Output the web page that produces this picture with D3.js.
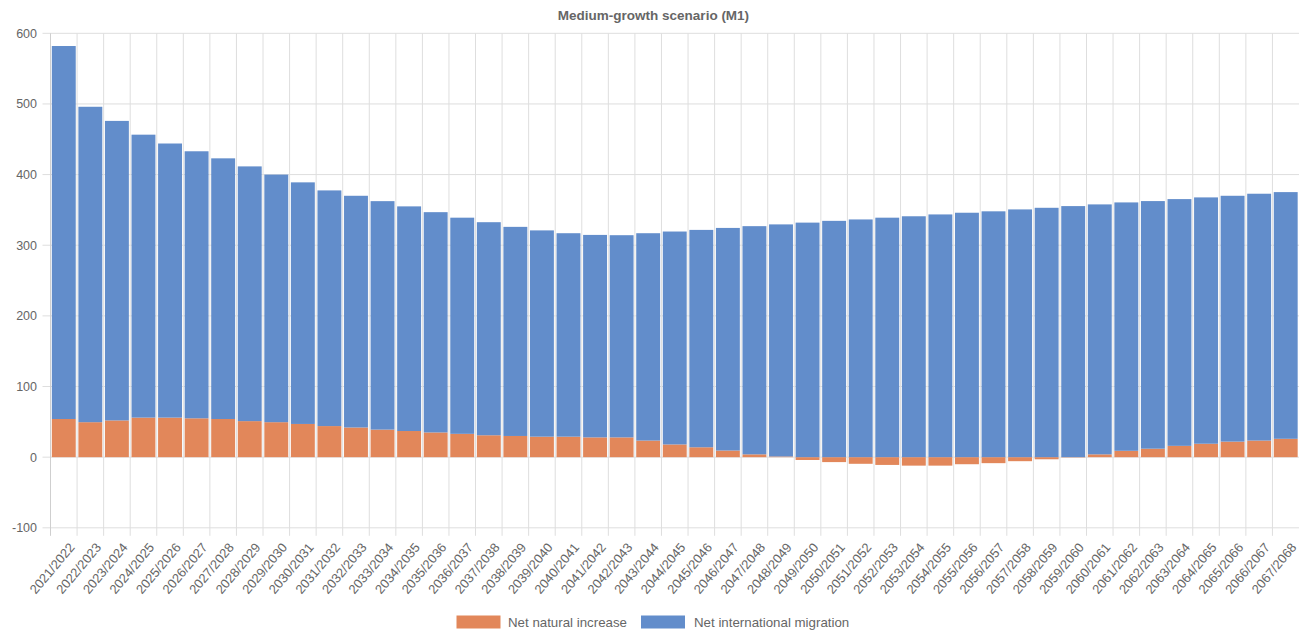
<!DOCTYPE html>
<html>
<head>
<meta charset="utf-8">
<script src="https://cdn.jsdelivr.net/npm/d3@7"></script>
<style>
  html, body { margin: 0; padding: 0; background: #fff; }
  svg { display: block; font-family: "Liberation Sans", Arial, sans-serif; }
</style>
</head>
<body>
<svg id="chart" width="1299" height="633"></svg>
<script>
const categories = ["2021/2022","2022/2023","2023/2024","2024/2025","2025/2026","2026/2027","2027/2028","2028/2029","2029/2030","2030/2031","2031/2032","2032/2033","2033/2034","2034/2035","2035/2036","2036/2037","2037/2038","2038/2039","2039/2040","2040/2041","2041/2042","2042/2043","2043/2044","2044/2045","2045/2046","2046/2047","2047/2048","2048/2049","2049/2050","2050/2051","2051/2052","2052/2053","2053/2054","2054/2055","2055/2056","2056/2057","2057/2058","2058/2059","2059/2060","2060/2061","2061/2062","2062/2063","2063/2064","2064/2065","2065/2066","2066/2067","2067/2068"];

const naturalIncrease = [54,49.5,52,56,56,55,54,51,49.5,47,44,42,39,37,35,33,31,30,29,29,28,28,23.5,18,14,9.4,4,1,-4,-7,-9.4,-11,-12,-12,-10,-8.5,-5.7,-3,-0.5,4,9,12,16,19,22,23.5,26];

const internationalMigration = [528,446.5,424,400.5,388,378,369,360.6,350.5,342,333.6,328,323.4,318,311.8,306,301.6,296,292,288,286.6,286.2,293.5,301.4,307.7,315.1,323,328.5,332,334.5,336.5,339,341,343.6,346,348,350.7,353,355.4,353.8,351.6,350.5,349.3,348.7,348,349.4,349.2];

const yTicks = [-100,0,100,200,300,400,500,600];

const seriesNames = ["Net natural increase","Net international migration"];
const seriesColors = ["#e2875a","#628dcb"];
const title = "Medium-growth scenario (M1)";

const svg = d3.select("#chart");
const plot = {left: 50.5, right: 1299, top: 33.3, bottom: 527.8};

const rows = categories.map((c, i) => ({cat: c, nat: naturalIncrease[i], mig: internationalMigration[i]}));
const stacked = d3.stack().keys(["nat","mig"]).offset(d3.stackOffsetDiverging)(rows);

const x = d3.scaleBand().domain(categories).range([plot.left, plot.right]).padding(0);
const y = d3.scaleLinear().domain([-100, 600]).range([plot.bottom, plot.top]);
const bw = x.bandwidth();
const gridColor = "#dedede";

// horizontal grid
const gy = svg.append("g");
yTicks.forEach(t => {
  gy.append("line").attr("x1", plot.left - 8).attr("x2", plot.right)
    .attr("y1", y(t)).attr("y2", y(t))
    .attr("stroke", gridColor).attr("stroke-width", 1);
  gy.append("text").attr("x", 37).attr("y", y(t)).attr("dy", "0.35em")
    .attr("text-anchor", "end").attr("fill", "#666").attr("font-size", 12.5).text(t);
});

// vertical grid at category boundaries
const gx = svg.append("g");
categories.forEach((c, i) => {
  const xx = x(c);
  gx.append("line").attr("x1", xx).attr("x2", xx)
    .attr("y1", plot.top).attr("y2", plot.bottom + 8)
    .attr("stroke", i === 0 ? "#cfcfcf" : gridColor).attr("stroke-width", 1);
});

// bars
stacked.forEach((s, si) => {
  svg.append("g").attr("fill", seriesColors[si])
    .selectAll("rect").data(s).join("rect")
    .attr("x", d => x(d.data.cat) + bw * 0.05)
    .attr("width", bw * 0.9)
    .attr("y", d => y(Math.max(d[0], d[1])))
    .attr("height", d => Math.abs(y(d[0]) - y(d[1])));
});

// x labels
const xl = svg.append("g");
categories.forEach(c => {
  const cx = x(c) + bw / 2 + 8;
  xl.append("text")
    .attr("transform", `translate(${cx},${plot.bottom + 17}) rotate(-50)`)
    .attr("text-anchor", "end").attr("dy", "0.35em")
    .attr("fill", "#666").attr("font-size", 13).text(c);
});

// title
svg.append("text").attr("x", 653.5).attr("y", 15).attr("dy", "0.35em")
  .attr("text-anchor", "middle").attr("font-weight", "bold")
  .attr("fill", "#666").attr("font-size", 13.5).text(title);

// legend
const legendItems = [{x: 456.5, tx: 508}, {x: 641, tx: 694}];
seriesNames.forEach((n, i) => {
  svg.append("rect").attr("x", legendItems[i].x).attr("y", 615.5)
    .attr("width", 44).attr("height", 13).attr("fill", seriesColors[i]);
  svg.append("text").attr("x", legendItems[i].tx).attr("y", 622).attr("dy", "0.35em")
    .attr("fill", "#666").attr("font-size", 13.3).text(n);
});
</script>
</body>
</html>
